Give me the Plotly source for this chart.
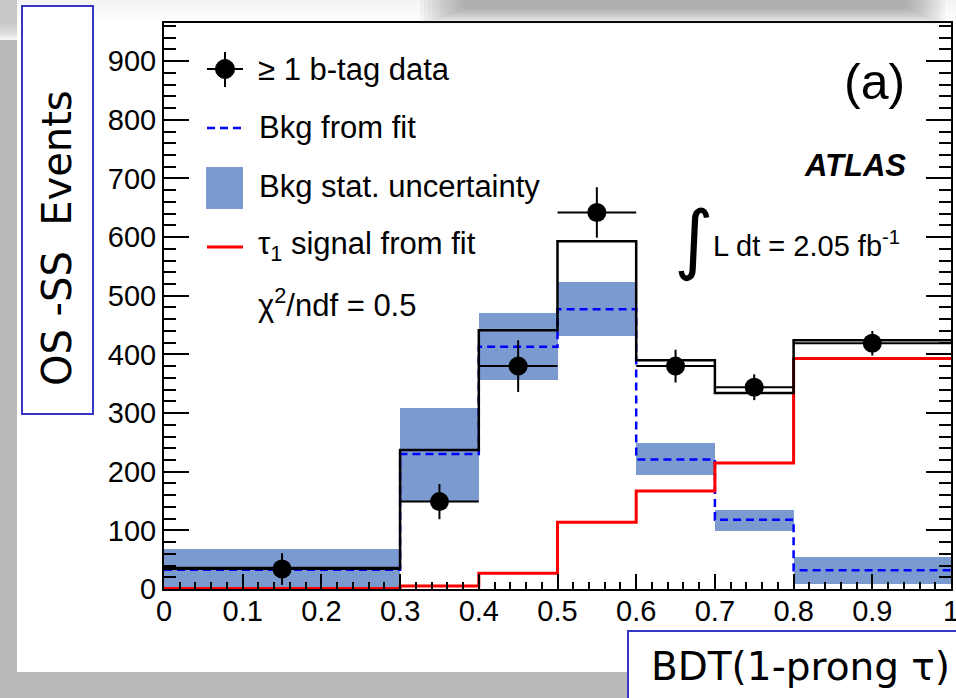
import plotly.graph_objects as go

# ---- data ----
bin_edges = [0.0, 0.3, 0.4, 0.5, 0.6, 0.7, 0.8, 1.0]
data_vals = [34, 149, 380, 642, 380, 344, 419]
data_errs = [27, 30, 44, 43, 28, 22, 21]
total_fit = [36, 237, 441, 593, 390, 334, 424]
bkg_fit = [33, 230, 413, 477, 221, 118, 32]
bkg_low = [0, 150, 356, 431, 194, 99, 9]
bkg_high = [68, 308, 470, 523, 249, 135, 55]
signal_fit = [1, 5, 27, 114, 167, 215, 393]
x_ticks = [0, 0.1, 0.2, 0.3, 0.4, 0.5, 0.6, 0.7, 0.8, 0.9, 1.0]
x_ticktext = ["0", "0.1", "0.2", "0.3", "0.4", "0.5", "0.6", "0.7", "0.8", "0.9", "1"]

centers = [(a + b) / 2 for a, b in zip(bin_edges[:-1], bin_edges[1:])]
widths = [b - a for a, b in zip(bin_edges[:-1], bin_edges[1:])]

BAND = "rgb(123,154,208)"
FONT = "Liberation Sans, Arial, sans-serif"
SLIDE_FONT = "DejaVu Sans, sans-serif"
DASH = "8px,5px"

# plot area in pixels
L, R, T, B = 164, 951, 23, 589
W, H = 956, 698


def px(x):
    return (x - L) / (R - L)


def py(y):
    return (B - y) / (B - T)


def step(vals):
    return bin_edges, list(vals) + [vals[-1]]


fig = go.Figure()

fig.add_trace(go.Bar(x=centers, y=[h - l for h, l in zip(bkg_high, bkg_low)], base=bkg_low,
                     width=widths, marker=dict(color=BAND, line=dict(width=0)),
                     showlegend=False, hoverinfo="skip"))

sx, sy = step(bkg_fit)
fig.add_trace(go.Scatter(x=sx, y=sy, mode="lines", line=dict(shape="hv", color="#0000ff", width=2.5, dash=DASH),
                         showlegend=False))
sx, sy = step(signal_fit)
fig.add_trace(go.Scatter(x=sx, y=sy, mode="lines", line=dict(shape="hv", color="#ff0000", width=3),
                         showlegend=False))
sx, sy = step(total_fit)
fig.add_trace(go.Scatter(x=sx, y=sy, mode="lines", line=dict(shape="hv", color="black", width=2.5),
                         showlegend=False))
fig.add_trace(go.Scatter(x=centers, y=data_vals, mode="markers",
                         marker=dict(color="black", size=19),
                         error_y=dict(type="data", array=data_errs, color="black", thickness=2, width=0),
                         error_x=dict(type="data", array=[w / 2 for w in widths], color="black", thickness=2, width=0),
                         showlegend=False))

shapes = []
annotations = []

# slide background pieces
for i in range(10):
    shapes.append(dict(type="rect", xref="paper", yref="paper", x0=px(17), x1=px(956), y0=py(22 - 2 * i), y1=py(0),
                       fillcolor="gray", opacity=0.012, line=dict(width=0), layer="below"))
shapes.append(dict(type="rect", xref="paper", yref="paper", x0=px(0), x1=px(17), y0=py(698), y1=py(40),
                   fillcolor="#b9b9b9", line=dict(width=0), layer="below"))
for i in range(10):
    shapes.append(dict(type="rect", xref="paper", yref="paper", x0=px(0), x1=px(17), y0=py(40 - 2 * i), y1=py(0),
                       fillcolor="#b9b9b9", opacity=0.15, line=dict(width=0), layer="below"))
shapes.append(dict(type="rect", xref="paper", yref="paper", x0=px(0), x1=px(956), y0=py(698), y1=py(672),
                   fillcolor="#b9b9b9", line=dict(width=0), layer="below"))
for i in range(12):
    shapes.append(dict(type="rect", xref="paper", yref="paper", x0=px(420 + 4 * i), x1=px(945 - 3.5 * i),
                       y0=py(24 - 1.4 * i), y1=py(0),
                       fillcolor="#707070", opacity=0.055, line=dict(width=0), layer="above"))

# legend symbols
shapes.append(dict(type="line", xref="paper", yref="paper", x0=px(207), x1=px(243), y0=py(69), y1=py(69),
                   line=dict(color="black", width=2)))
shapes.append(dict(type="line", xref="paper", yref="paper", x0=px(225), x1=px(225), y0=py(52), y1=py(87),
                   line=dict(color="black", width=2)))
shapes.append(dict(type="circle", xref="paper", yref="paper", x0=px(215.5), x1=px(234.5), y0=py(59.5), y1=py(78.5),
                   fillcolor="black", line=dict(color="black", width=1)))
shapes.append(dict(type="line", xref="paper", yref="paper", x0=px(207), x1=px(243), y0=py(128), y1=py(128),
                   line=dict(color="#0000ff", width=2.5, dash=DASH)))
shapes.append(dict(type="rect", xref="paper", yref="paper", x0=px(206), x1=px(243), y0=py(209), y1=py(167),
                   fillcolor=BAND, line=dict(width=0)))
shapes.append(dict(type="line", xref="paper", yref="paper", x0=px(207), x1=px(243), y0=py(247), y1=py(247),
                   line=dict(color="#ff0000", width=3)))

# slide boxes
shapes.append(dict(type="rect", xref="paper", yref="paper", x0=px(22), x1=px(93), y0=py(414), y1=py(6),
                   fillcolor="white", line=dict(color="#3535c8", width=2)))
shapes.append(dict(type="rect", xref="paper", yref="paper", x0=px(628), x1=px(960), y0=py(702), y1=py(631),
                   fillcolor="white", line=dict(color="#3535c8", width=2)))


def ann(text, x, y, size, xanchor="left", color="black", family=FONT, angle=0):
    annotations.append(dict(text=text, x=px(x), y=py(y), xref="paper", yref="paper", showarrow=False,
                            xanchor=xanchor, yanchor="middle", textangle=angle,
                            font=dict(size=size, color=color, family=family)))


ann("\u2265 1 b-tag data", 256, 69, 31)
ann("Bkg from fit", 257, 128, 31)
ann("Bkg stat. uncertainty", 257, 187, 31)
ann("\u03c4<sub>1</sub> signal from fit", 256, 246, 31)
ann("\u03c7<sup>2</sup>/ndf = 0.5", 256, 303, 31)
ann("(a)", 907, 82, 50, xanchor="right")
ann("<b><i>ATLAS</i></b>", 908, 165, 31, xanchor="right")
ann("\u222b", 694, 238, 76, xanchor="center", family="DejaVu Sans, sans-serif")
ann("L dt = 2.05 fb<sup>-1</sup>", 711, 244, 29)
ann("OS -SS  Events", 57, 238, 40, xanchor="center", family=SLIDE_FONT, angle=-90)
ann("BDT(1-prong \u03c4)", 800, 666, 39, xanchor="center", family=SLIDE_FONT)

fig.update_layout(
    width=W, height=H,
    margin=dict(l=L, r=W - R, t=T, b=H - B, pad=0, autoexpand=False),
    paper_bgcolor="white", plot_bgcolor="white",
    shapes=shapes, annotations=annotations,
    bargap=0, showlegend=False,
    font=dict(family=FONT, size=29, color="black"),
)
fig.update_xaxes(range=[0, 1], tickvals=x_ticks, ticktext=x_ticktext, ticks="inside", ticklen=15,
                 tickwidth=1.5, tickcolor="black", showgrid=False, zeroline=False, automargin=False,
                 showline=True, linecolor="black", linewidth=2, mirror=True,
                 tickfont=dict(size=29, family=FONT), ticklabeloverflow="allow", ticklabelstandoff=-5,
                 minor=dict(dtick=0.02, ticks="inside", ticklen=7, tickwidth=1.5, tickcolor="black", showgrid=False))
fig.update_yaxes(range=[0, 965], dtick=100, ticks="inside", ticklen=25, tickwidth=1.5, tickcolor="black",
                 showgrid=False, zeroline=False, showline=True, linecolor="black", linewidth=2, mirror="ticks",
                 tickfont=dict(size=29, family=FONT), ticklabelstandoff=0, automargin=False,
                 minor=dict(dtick=20, ticks="inside", ticklen=12, tickwidth=1.5, tickcolor="black", showgrid=False))

fig.write_html("out.html")
